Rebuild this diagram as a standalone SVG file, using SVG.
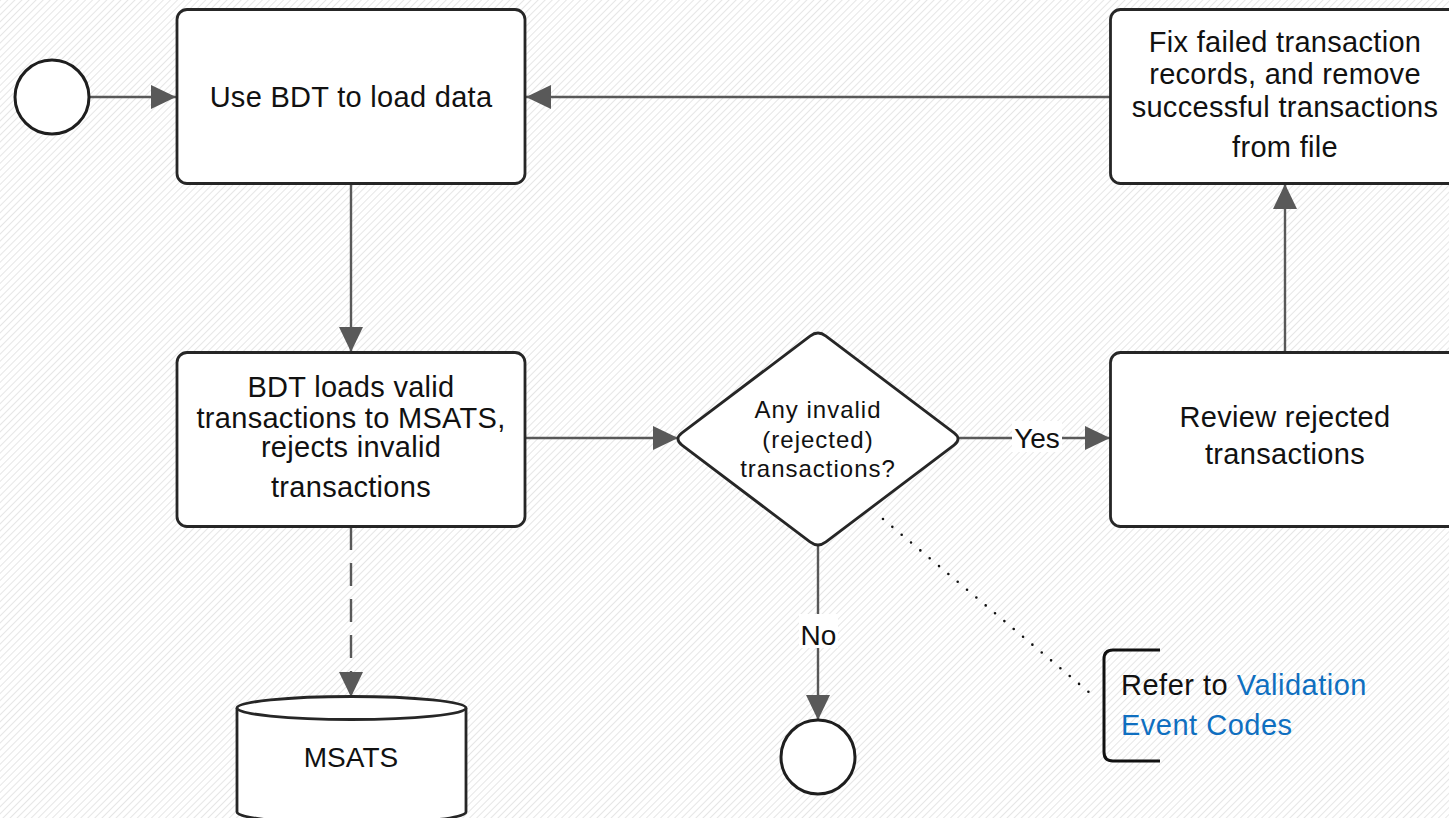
<svg xmlns="http://www.w3.org/2000/svg" width="1449" height="818" viewBox="0 0 1449 818">
<defs>
<pattern id="hatch" patternUnits="userSpaceOnUse" width="5" height="5" patternTransform="rotate(45)">
<line x1="0" y1="0" x2="0" y2="5" stroke="#e6e6e6" stroke-width="2"/>
</pattern>
<marker id="arr" viewBox="0 0 25 24" refX="25" refY="12" markerWidth="25" markerHeight="24" markerUnits="userSpaceOnUse" orient="auto">
<path d="M0,0 L25,12 L0,24 Z" fill="#595959"/>
</marker>
<style>
.box{fill:#fff;stroke:#262626;stroke-width:2.8}
.circ{fill:#fff;stroke:#1e1e1e;stroke-width:3}
.con{fill:none;stroke:#595959;stroke-width:2.4;marker-end:url(#arr)}
.t{font-family:"Liberation Sans",Arial,sans-serif;font-size:29px;fill:#111;text-anchor:middle;letter-spacing:0.3px}
.ts{font-family:"Liberation Sans",Arial,sans-serif;font-size:24px;fill:#111;text-anchor:middle;letter-spacing:1px}
.lbl{fill:#fff}
.link{fill:#0f6fc0}
</style>
</defs>
<rect x="0" y="0" width="1449" height="818" fill="#fff"/>
<rect x="0" y="0" width="1449" height="818" fill="url(#hatch)"/>

<g id="connectors">
<line class="con" x1="89" y1="97" x2="176" y2="97"/>
<line class="con" x1="1110" y1="97" x2="526" y2="97"/>
<line class="con" x1="351" y1="184" x2="351" y2="352"/>
<line class="con" x1="526" y1="438" x2="678" y2="438"/>
<line class="con" x1="958" y1="438" x2="1110" y2="438"/>
<line class="con" x1="1285" y1="352" x2="1285" y2="184"/>
<line class="con" x1="818" y1="546" x2="818" y2="720"/>
<line class="con" x1="351" y1="527" x2="351" y2="697" stroke-dasharray="23 13"/>
<line x1="883" y1="519" x2="1097" y2="699" stroke="#111" stroke-width="2.6" stroke-linecap="round" stroke-dasharray="0 12.2"/>
<rect class="lbl" x="1012" y="421" width="50" height="31"/>
<text class="t" x="1037" y="448" style="letter-spacing:0;font-size:28px">Yes</text>
<rect class="lbl" x="799" y="614" width="39" height="34"/>
<text class="t" x="818.5" y="645" style="letter-spacing:0;font-size:28px">No</text>
</g>

<g id="start">
<circle class="circ" cx="52" cy="97" r="37"/>
</g>

<g id="load">
<rect class="box" x="177" y="9.5" width="348" height="174" rx="10"/>
<text class="t" x="351" y="107">Use BDT to load data</text>
</g>

<g id="fix">
<rect class="box" x="1110.5" y="9.5" width="350" height="174" rx="10"/>
<text class="t" x="1285" y="52">Fix failed transaction</text>
<text class="t" x="1285" y="84">records, and remove</text>
<text class="t" x="1285" y="117">successful transactions</text>
<text class="t" x="1285" y="157">from file</text>
</g>

<g id="bdtloads">
<rect class="box" x="177" y="352.5" width="348" height="174" rx="10"/>
<text class="t" x="351" y="397">BDT loads valid</text>
<text class="t" x="351" y="428">transactions to MSATS,</text>
<text class="t" x="351" y="457">rejects invalid</text>
<text class="t" x="351" y="497">transactions</text>
</g>

<g id="decision">
<path class="box" d="M681.97 432.96 L810.03 336.04 Q818 330 825.97 336.04 L954.03 432.96 Q962 439 954.03 445.04 L825.97 541.96 Q818 548 810.03 541.96 L681.97 445.04 Q674 439 681.97 432.96 Z"/>
<text class="ts" x="818" y="418">Any invalid</text>
<text class="ts" x="818" y="448">(rejected)</text>
<text class="ts" x="818" y="477">transactions?</text>
</g>

<g id="review">
<rect class="box" x="1110.5" y="352.5" width="350" height="174" rx="10"/>
<text class="t" x="1285" y="427">Review rejected</text>
<text class="t" x="1285" y="464">transactions</text>
</g>

<g id="end">
<circle class="circ" cx="818" cy="757" r="37"/>
</g>

<g id="msats">
<path class="box" d="M237 708 L237 812 A114.5 11.5 0 0 0 466 812 L466 708"/>
<ellipse class="box" cx="351.5" cy="708" rx="114.5" ry="11.5"/>
<text class="t" x="351" y="767" style="letter-spacing:0;font-size:28px">MSATS</text>
</g>

<g id="annotation">
<path d="M1160 650 L1113 650 Q1104 650 1104 659 L1104 752 Q1104 761 1113 761 L1160 761" fill="none" stroke="#111" stroke-width="3"/>
<text class="t" x="1121" y="695" style="text-anchor:start;letter-spacing:0.5px">Refer to <tspan class="link">Validation</tspan></text>
<text class="t" x="1121" y="735" style="text-anchor:start;letter-spacing:0.5px"><tspan class="link">Event Codes</tspan></text>
</g>
</svg>
